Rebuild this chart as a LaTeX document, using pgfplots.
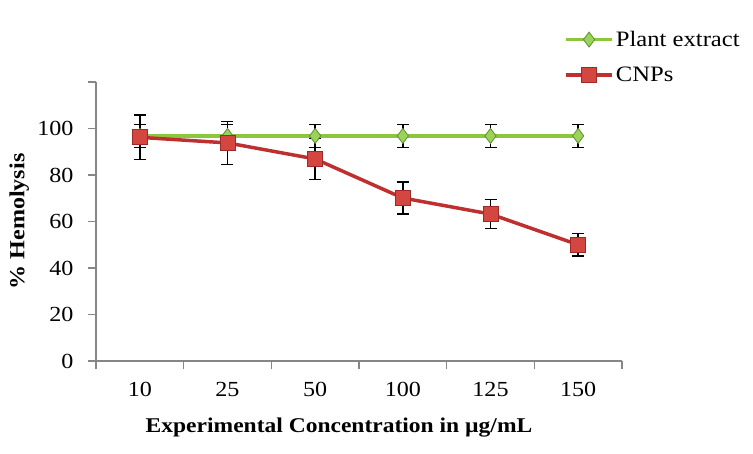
\documentclass[border=0pt]{standalone}
\usepackage{fontspec}
\setmainfont{Liberation Serif}[FakeStretch=1.12]
\usepackage{pgfplots}
\pgfplotsset{compat=1.18}
\definecolor{lgreen}{HTML}{8CC63F}
\definecolor{dgreen}{HTML}{5E8F32}
\definecolor{mgreen}{HTML}{9BD25A}
\definecolor{cred}{HTML}{BE3030}
\definecolor{sqred}{HTML}{D44640}
\definecolor{sqedge}{HTML}{A02828}
\definecolor{axgray}{HTML}{868686}
\pgfplotstableread{
x y e
1 96.8 5
2 96.8 5
3 96.8 5
4 96.8 5
5 96.8 5
6 96.8 5
}\plant
\pgfplotstableread{
x y e
1 96.2 9.6
2 93.8 9.2
3 86.9 8.8
4 70.1 6.8
5 63.2 6.2
6 50.0 4.9
}\cnps
\begin{document}
\begin{tikzpicture}
\path[use as bounding box] (-96pt,-92pt) rectangle (657pt,361pt);
\begin{axis}[
  at={(0,0)}, anchor=south west, scale only axis,
  width=526pt, height=279pt,
  xmin=0.5, xmax=6.5, ymin=0, ymax=120,
  axis lines=left,
  axis line style={axgray, line width=1.2pt, -},
  xtick={0.5,1.5,2.5,3.5,4.5,5.5,6.5},
  xticklabels={10,25,50,100,125,150},
  x tick label as interval,
  ytick={0,20,40,60,80,100,120},
  yticklabels={0,20,40,60,80,100,{}},
  tick align=outside,
  major tick length=8pt,
  tick style={axgray, line width=1.2pt},
  /pgf/number format/assume math mode=true,
  ticklabel style={font=\fontsize{21.5}{21.5}\selectfont, text=black},
  xticklabel style={yshift=-10pt},
  yticklabel style={xshift=-11pt},
  xlabel={Experimental Concentration in µg/mL},
  ylabel={\% Hemolysis},
  xlabel style={at={(axis description cs:0.462,-0.24)}, anchor=center, font=\fontsize{21}{21}\selectfont\bfseries},
  ylabel style={at={(axis description cs:-0.146,0.5)}, anchor=center, font=\fontsize{21.5}{21.5}\selectfont\bfseries},
  legend style={at={(axis description cs:0.89,1.19)}, anchor=north west, draw=none, fill=none,
    font=\fontsize{22}{22}\selectfont, row sep=15pt, inner sep=0pt},
  legend cell align=left,
  legend image code/.code={\draw[#1, mark repeat=2, mark phase=2] plot coordinates {(0pt,0pt) (23pt,0pt) (46pt,0pt)};},
  clip=false,
]
\addplot[lgreen, line width=3.5pt, mark=diamond*, mark size=7.5pt,
  mark options={fill=mgreen, draw=dgreen, line width=0.8pt},
  error bars/.cd, y dir=both, y explicit,
  error bar style={black, line width=1.6pt},
  error mark options={black, line width=1.6pt, mark size=6pt, rotate=90}]
  table[x=x, y=y, y error=e] {\plant};
\addlegendentry{Plant extract}
\addplot[cred, line width=3.5pt, mark=square*, mark size=7.5pt,
  mark options={fill=sqred, draw=sqedge, line width=0.8pt},
  error bars/.cd, y dir=both, y explicit,
  error bar style={black, line width=1.6pt},
  error mark options={black, line width=1.6pt, mark size=6pt, rotate=90}]
  table[x=x, y=y, y error=e] {\cnps};
\addlegendentry{CNPs}
\end{axis}
\end{tikzpicture}
\end{document}
